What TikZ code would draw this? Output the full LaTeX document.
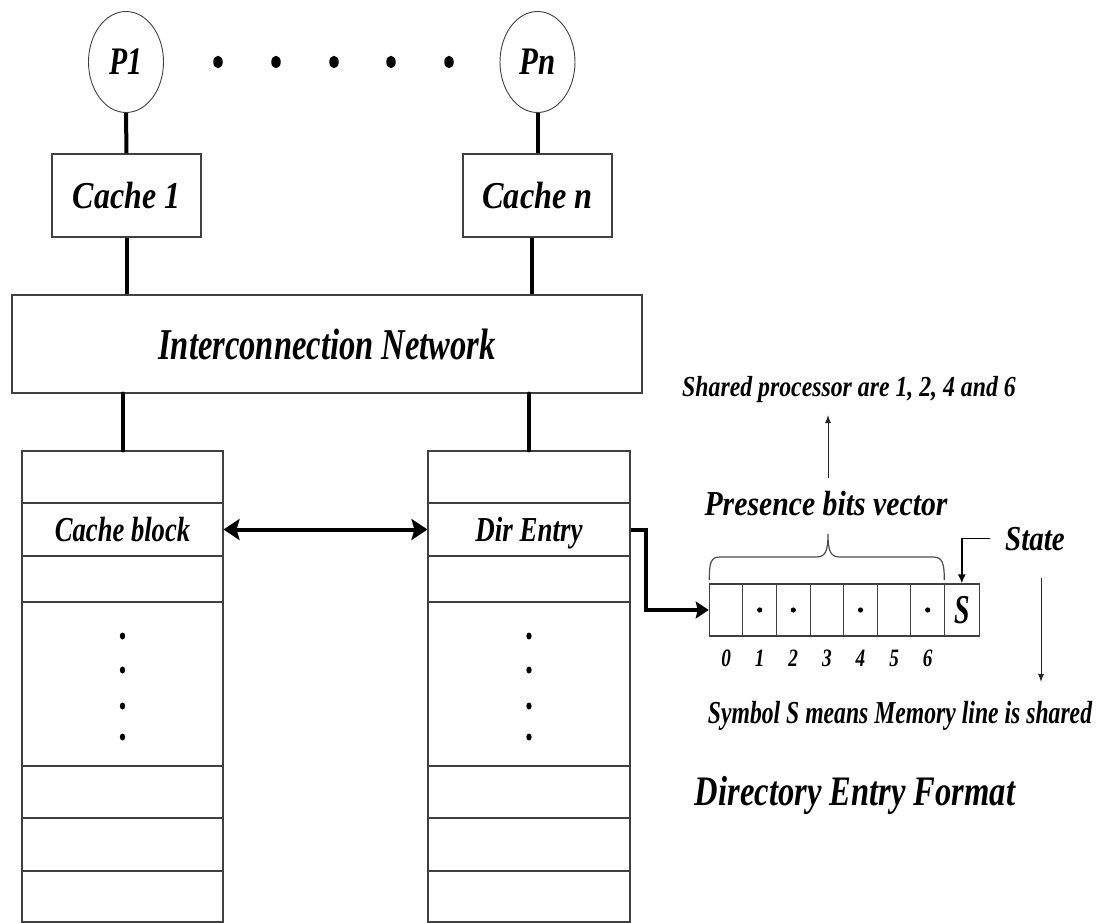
\documentclass[tikz,border=0pt]{standalone}
\usepackage{fontspec}
\usepackage{graphicx}
\newfontfamily\lab{Liberation Serif Bold Italic}
\usetikzlibrary{arrows.meta,shapes.geometric,calc}
% #1 = font size (pt), #2 = horizontal squeeze, #3 = text
\newcommand\tx[3]{\scalebox{#2}[1]{\lab\fontsize{#1}{#1}\selectfont #3}}

\begin{document}
\begin{tikzpicture}[x=1pt,y=-1pt,
  frame/.style={draw=black!75, line width=1.1pt, inner sep=0pt, text depth=0pt},
  proc/.style={ellipse, draw=black!75, line width=0.9pt, inner sep=0pt,
               minimum width=75pt, minimum height=101pt},
  wire/.style={line width=4pt, black},
  fine/.style={line width=1pt, black!85},
  lbl/.style={inner sep=0pt, anchor=base},
  bigtip/.style={Stealth[length=16pt,width=21pt,inset=3pt]},
  smalltip/.style={-{Latex[length=8pt,width=6pt]}}]

\useasboundingbox (0,0) rectangle (1098,923);

% processors and the dots between them
\node[proc] (p1) at (126,62) {\tx{39}{0.76}{P1}};
\node[proc] (pn) at (537.5,62) {\tx{39}{0.79}{Pn}};
\foreach \x [count=\k] in {218,276,334,391,449}
  \node[ellipse, fill=black, inner sep=0pt, minimum width=9.5pt, minimum height=12.5pt] (pd\k) at (\x,62) {};

% caches
\node[frame, minimum width=149pt, minimum height=83pt] (c1) at (126.5,195.5) {\tx{38}{0.84}{Cache 1}};
\node[frame, minimum width=149pt, minimum height=83pt] (cn) at (537.5,195.5) {\tx{38}{0.85}{Cache n}};

% interconnection network
\node[frame, minimum width=630pt, minimum height=98pt] (net) at (327,344) {\tx{44}{0.74}{Interconnection Network}};

% memory and directory columns
\foreach \side/\xc/\w in {l/122.5/201, r/529/202}{
  \foreach \i/\yc/\h in {1/477/52, 2/529.5/53, 3/579/46, 4/684/164, 5/792/52, 6/844.5/53, 7/896.5/51}
    \node[frame, minimum width=\w pt, minimum height=\h pt] (\side\i) at (\xc,\yc) {};
  \foreach \yd [count=\k] in {636,670,706,737}
    \fill (\xc,\yd) circle[x radius=2.7, y radius=3.5];
}
\node[inner sep=0pt, text depth=0pt] (cb) at (l2) {\tx{35}{0.76}{Cache block}};
\node[inner sep=0pt, text depth=0pt] (de) at (r2) {\tx{35}{0.77}{Dir Entry}};

% thick connectors
\draw[wire] (p1.south) -- (c1.north);
\draw[wire] (pn.south) -- (cn.north);
\draw[wire] (c1.south) -- (c1.south |- net.north);
\draw[wire] ([xshift=-5.5pt]cn.south) -- ([xshift=-5.5pt]cn.south |- net.north);
\draw[wire, line cap=round] (l1.north) -- (l1.north |- net.south);
\draw[wire, line cap=round] (r1.north) -- (r1.north |- net.south);
\draw[wire, {Stealth[length=16pt,width=21pt,inset=3pt]}-{Stealth[length=16pt,width=21pt,inset=3pt]}] (l2.east) -- (r2.west);

% directory entry format
\foreach \i in {0,...,6}{
  \node[frame, minimum width=33.6pt, minimum height=52pt] (b\i) at ({726.1+33.6*\i},610) {};
  \node[lbl] (n\i) at ({726.1+33.6*\i},666) {\tx{25}{0.77}{\i}};
}
\node[frame, minimum width=35pt, minimum height=52pt] (b7) at (961.8,610) {\tx{41}{0.68}{S}};
\foreach \i in {1,2,4,6}
  \fill (b\i) circle (2.6);

\draw[wire, -{Stealth[length=13pt,width=17pt,inset=2pt]}] (r2.east) -- ++(15,0) |- (b0.west);

% brace over the presence bits
\draw[line width=1.2pt, black!70]
  (709.3,580) .. controls (709.3,562) and (711,557) .. (720,557) -- (816,557)
  .. controls (825,557) and (828,552) .. (828,534)
  .. controls (828,552) and (831,557) .. (840,557) -- (933,557)
  .. controls (942,557) and (944.3,562) .. (944.3,580);

\node[lbl] (shp) at (849,396) {\tx{29}{0.82}{Shared processor are 1, 2, 4 and 6}};
\node[lbl] (pbv) at (826,515) {\tx{35}{0.85}{Presence bits vector}};
\node[lbl] (st) at (1035,550) {\tx{35}{0.83}{State}};
\node[lbl] (sym) at (900,723) {\tx{32}{0.74}{Symbol S means Memory line is shared}};
\node[lbl] (def) at (855,805) {\tx{42}{0.775}{Directory Entry Format}};

\draw[fine, smalltip] (828,478) -- (828,415);
\draw[line width=1.8pt, -{Latex[length=9pt,width=8pt]}] ([xshift=-15pt]st.west) -| (b7.north);
\coordinate (dtop) at (1041,578);
\coordinate (dbot) at (1041,682);
\draw[fine, smalltip] (dtop) -- (dbot);
\end{tikzpicture}
\end{document}
